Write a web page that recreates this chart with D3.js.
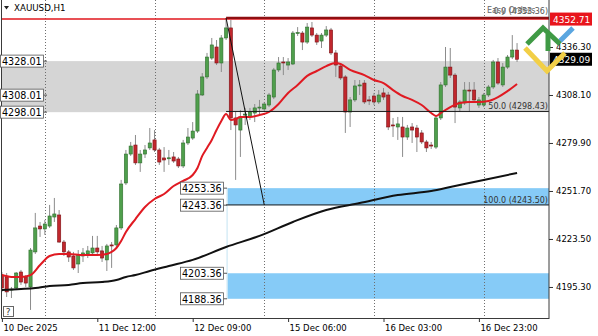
<!DOCTYPE html>
<html>
<head>
<meta charset="utf-8">
<script src="https://cdn.jsdelivr.net/npm/d3@7"></script>
<style>
  body { margin: 0; background: #fff; }
  svg { display: block; font-family: "DejaVu Sans", Tahoma, sans-serif; }
</style>
</head>
<body>
<svg id="chart"></svg>
<script>
// XAUUSD H1, bars 0..108
const opens = [4202.3,4201.2,4193.5,4194.7,4204.1,4201.2,4195.3,4215.9,4231.1,4229.4,
  4231.1,4236.4,4237.6,4221.7,4215.9,4213.5,4208.8,4213.5,4214.7,4215.3,
  4218.2,4216.5,4211.2,4220.0,4220.0,4230.0,4256.4,4273.4,4278.7,4268.2,
  4273.4,4277.0,4281.7,4275.8,4271.1,4271.1,4271.7,4270.5,4266.4,4279.9,
  4282.8,4286.9,4308.1,4318.7,4329.8,4336.3,4326.9,4341.6,4347.5,4294.6,
  4287.5,4296.3,4295.2,4297.5,4300.5,4299.9,4302.2,4306.9,4322.8,4327.5,
  4325.7,4326.3,4344.5,4344.5,4339.2,4347.5,4343.3,4339.8,4343.3,4346.3,
  4332.8,4325.1,4318.7,4298.1,4305.2,4313.4,4315.1,4305.2,4307.5,4304.0,
  4309.3,4308.1,4290.5,4289.3,4289.3,4283.4,4289.3,4288.7,4285.8,4280.5,
  4278.7,4277.5,4294.6,4314.0,4324.5,4319.8,4300.5,4303.4,4311.0,4311.0,
  4302.2,4302.2,4308.1,4312.8,4327.5,4314.0,4324.5,4330.4,4334.5];
const highs = [4204.1,4203.5,4195.3,4204.1,4205.3,4202.3,4218.2,4238.8,4233.5,4234.7,
  4243.5,4247.6,4240.5,4222.9,4217.0,4215.9,4217.0,4218.2,4219.4,4225.3,
  4225.3,4219.4,4220.6,4221.7,4231.7,4258.2,4275.8,4280.5,4284.6,4275.8,
  4278.7,4288.7,4287.5,4277.0,4277.5,4275.8,4274.6,4271.7,4281.7,4288.7,
  4292.2,4311.0,4321.0,4332.8,4341.6,4340.4,4343.3,4353.3,4352.2,4298.1,
  4299.3,4300.5,4300.5,4302.8,4305.2,4304.0,4309.3,4324.0,4330.4,4330.4,
  4329.8,4345.7,4348.0,4345.7,4350.4,4351.0,4344.5,4344.5,4348.6,4347.5,
  4334.5,4326.9,4319.8,4306.9,4316.9,4316.9,4316.9,4307.5,4309.3,4311.0,
  4312.2,4309.9,4294.6,4295.2,4295.2,4290.5,4291.6,4290.5,4287.5,4281.7,
  4280.5,4296.3,4315.7,4336.3,4335.7,4321.0,4305.2,4315.7,4315.7,4315.7,
  4306.9,4309.3,4314.0,4328.7,4329.8,4326.9,4331.6,4343.3,4338.6];
const lows = [4192.4,4189.4,4188.8,4193.5,4196.5,4195.3,4181.8,4214.7,4224.7,4225.9,
  4230.0,4233.5,4221.2,4213.5,4210.0,4205.3,4203.5,4210.0,4212.3,4213.5,
  4213.5,4210.0,4204.7,4206.5,4218.8,4228.8,4255.2,4272.3,4267.0,4262.9,
  4271.1,4275.8,4274.6,4267.0,4262.9,4267.0,4268.2,4265.2,4265.2,4278.7,
  4281.7,4285.8,4307.5,4317.5,4328.7,4325.7,4321.6,4340.4,4287.5,4258.2,
  4271.7,4290.5,4293.4,4292.2,4296.3,4298.7,4301.0,4305.7,4321.6,4319.8,
  4322.8,4325.7,4342.8,4334.5,4338.1,4342.2,4337.5,4335.7,4342.2,4331.6,
  4318.7,4316.9,4285.8,4289.3,4304.0,4308.1,4302.8,4302.2,4302.2,4302.8,
  4305.2,4287.5,4283.4,4281.7,4271.7,4281.7,4279.9,4274.6,4279.3,4274.6,
  4276.4,4276.4,4293.4,4312.8,4318.1,4291.6,4298.1,4302.2,4298.1,4303.4,
  4300.5,4301.0,4306.9,4311.6,4314.0,4312.8,4323.4,4329.2,4327.5];
const closes = [4194.7,4192.4,4194.1,4203.5,4198.2,4197.6,4217.0,4230.0,4229.4,4232.3,
  4237.0,4238.2,4221.7,4215.9,4212.9,4206.5,4214.1,4215.3,4216.5,4218.2,
  4215.9,4212.3,4219.4,4219.4,4230.0,4255.8,4273.4,4278.1,4268.2,4273.4,
  4275.8,4279.9,4275.8,4268.7,4269.9,4271.2,4269.3,4266.4,4279.9,4283.4,
  4286.9,4308.7,4318.7,4330.4,4337.5,4326.9,4341.6,4347.5,4294.6,4290.5,
  4295.2,4296.9,4298.1,4300.5,4301.0,4302.8,4308.1,4322.8,4326.9,4326.9,
  4327.5,4344.5,4344.8,4339.2,4348.0,4343.3,4339.2,4343.3,4346.3,4332.8,
  4325.7,4318.1,4298.1,4305.2,4313.4,4314.0,4304.0,4304.6,4304.0,4308.1,
  4306.9,4289.3,4289.9,4291.1,4283.4,4288.7,4287.5,4283.4,4280.5,4277.0,
  4278.1,4294.6,4314.0,4324.5,4319.8,4301.0,4304.0,4311.0,4310.5,4305.2,
  4305.2,4308.1,4312.8,4327.5,4315.1,4324.5,4330.4,4334.5,4329.1];

// moving averages, [bar, price] read at sample bars
const redMA = [[0,4202.3],[2,4201.2],[4,4201.2],[6,4202.3],[8,4208.2],[10,4213.5],[12,4214.7],
  [14,4214.7],[17,4214.1],[20,4214.1],[22,4214.7],[23,4215.9],[24,4218.2],[25,4222.3],
  [26,4227.6],[28,4235.2],[30,4242.3],[32,4247.0],[34,4249.9],[36,4254.6],[38,4257.6],
  [40,4261.1],[41,4265.2],[42,4272.3],[43,4277.0],[44,4281.7],[45,4287.5],[46,4292.8],
  [47,4296.9],[48,4293.4],[49,4294.0],[50,4295.2],[52,4295.2],[54,4296.3],[56,4298.1],
  [58,4302.8],[60,4309.3],[62,4314.0],[64,4319.3],[66,4322.2],[68,4325.1],[70,4326.9],
  [71,4326.3],[73,4322.8],[76,4319.8],[78,4316.9],[80,4315.1],[82,4311.0],[84,4307.5],
  [86,4305.2],[88,4302.2],[90,4297.5],[91,4295.8],[92,4297.5],[94,4301.0],[96,4303.4],
  [98,4304.0],[100,4304.0],[102,4304.6],[104,4306.9],[106,4310.4],[108,4314.6]];
const blackMA = [[0,4193.5],[4,4194.1],[7,4194.7],[10,4195.9],[14,4196.5],[17,4197.6],
  [21,4198.2],[24,4199.4],[26,4201.2],[28,4202.3],[31,4204.7],[35,4207.6],[40,4211.2],
  [47,4218.8],[54,4225.3],[61,4233.5],[68,4240.5],[75,4244.6],[83,4249.3],[90,4251.7],
  [94,4254.0],[101,4258.2],[108,4262.3]];

const priceTicks = [4336.30, 4308.10, 4279.90, 4251.70, 4223.50, 4195.30];
const timeTickBars = [0, 20, 40, 60, 80, 100];
const timeTickLabels = ["10 Dec 2025", "11 Dec 12:00", "12 Dec 09:00", "15 Dec 06:00", "16 Dec 03:00", "16 Dec 23:00"];
const gridBars = [9, 32, 55, 78, 101];

const grayZone = [4328.01, 4298.01];
const grayZoneLabels = [4328.01, 4308.01, 4298.01];
const blueZones = [[4253.36, 4243.36], [4203.36, 4188.36]];
const blueZoneLabels = [4253.36, 4243.36, 4203.36, 4188.36];
const fibStart = { bar: 47, price: 4353.36 };
const fibEnd = { bar: 55, price: 4243.50 };
const fibLevels = [0, 50, 100];
const hLinePrice = 4352.71;
const bidPrice = 4329.09;

class CandleChart {

  constructor(_config) {
    this.config = {
      parentElement: _config.parentElement,
      containerWidth: _config.containerWidth || 598,
      containerHeight: _config.containerHeight || 336,
      plotRight: 549,
      plotBottom: 318
    }
    this.bars = opens.map((o, i) => ({ i: i, o: o, h: highs[i], l: lows[i], c: closes[i] }));
    this.initVis();
  }

  initVis() {
    let vis = this;
    let W = vis.config.plotRight, H = vis.config.plotBottom;

    vis.svg = d3.select(vis.config.parentElement)
        .attr('width', vis.config.containerWidth)
        .attr('height', vis.config.containerHeight)
        .style('background-color', '#fff');

    // bar i sits at 1.9 + 4.77*i px
    vis.xScale = d3.scaleLinear().domain([0, 108]).range([1.9, 1.9 + 4.77 * 108]);
    vis.yScale = d3.scaleLinear().domain([4177.07, 4363.91]).range([H, 0]);

    vis.svg.append('clipPath').attr('id', 'plotclip')
      .append('rect').attr('x', 1).attr('y', 0).attr('width', W - 1).attr('height', H);

    vis.chart = vis.svg.append('g').attr('clip-path', 'url(#plotclip)');

    vis.updateVis();
  }

  updateVis() {
    let vis = this;
    let x = vis.xScale, y = vis.yScale;
    let W = vis.config.plotRight, H = vis.config.plotBottom;
    let fibX = x(fibStart.bar);

    // gray zone across the whole chart
    vis.chart.append('rect')
      .attr('x', 0).attr('width', W)
      .attr('y', y(grayZone[0])).attr('height', y(grayZone[1]) - y(grayZone[0]))
      .attr('fill', '#d5d5d5');

    // blue zones
    vis.chart.selectAll('rect.blue').data(blueZones).join('rect')
      .attr('class', 'blue')
      .attr('x', fibX + 1.5).attr('width', W - fibX - 1.5)
      .attr('y', d => y(d[0])).attr('height', d => y(d[1]) - y(d[0]))
      .attr('fill', '#86cbf7');
    vis.chart.append('line')
      .attr('x1', fibX + 1).attr('x2', fibX + 1)
      .attr('y1', y(blueZones[0][0])).attr('y2', y(blueZones[1][1]))
      .attr('stroke', '#c3e3f2').attr('stroke-width', 1);

    // dotted grid
    vis.chart.selectAll('line.grid').data(gridBars).join('line')
      .attr('class', 'grid')
      .attr('x1', d => Math.round(x(d)) + 0.5).attr('x2', d => Math.round(x(d)) + 0.5)
      .attr('y1', 0).attr('y2', H)
      .attr('stroke', '#6e6e6e').attr('stroke-dasharray', '1,2');

    // candles
    vis.chart.selectAll('line.wick').data(vis.bars).join('line')
      .attr('class', 'wick')
      .attr('x1', d => x(d.i)).attr('x2', d => x(d.i))
      .attr('y1', d => y(d.h)).attr('y2', d => y(d.l))
      .attr('stroke', '#8c8c8c').attr('stroke-width', 1);
    vis.chart.selectAll('rect.body').data(vis.bars).join('rect')
      .attr('class', 'body')
      .attr('x', d => x(d.i) - 1.6).attr('width', 3.2)
      .attr('y', d => y(Math.max(d.o, d.c)))
      .attr('height', d => Math.max(1, Math.abs(y(d.o) - y(d.c))))
      .attr('fill', d => d.c >= d.o ? '#4f9f4c' : '#c1272d')
      .attr('stroke', d => d.c >= d.o ? '#2f6e2d' : '#7d1216')
      .attr('stroke-width', 0.6);

    // moving averages
    let maLine = d3.line().x(d => x(d[0])).y(d => y(d[1])).curve(d3.curveMonotoneX);
    vis.chart.append('path').datum(blackMA)
      .attr('d', maLine).attr('fill', 'none')
      .attr('stroke', '#111').attr('stroke-width', 2);
    vis.chart.append('path').datum(redMA)
      .attr('d', maLine).attr('fill', 'none')
      .attr('stroke', '#e01a22').attr('stroke-width', 2);

    // horizontal line + fibo
    vis.chart.append('line')
      .attr('x1', 0).attr('x2', W).attr('y1', y(hLinePrice)).attr('y2', y(hLinePrice))
      .attr('stroke', '#e0161d').attr('stroke-width', 1.5);
    let fibPrice = lv => fibStart.price - (fibStart.price - fibEnd.price) * lv / 100;
    vis.chart.selectAll('line.fib').data(fibLevels).join('line')
      .attr('class', 'fib')
      .attr('x1', fibX).attr('x2', W)
      .attr('y1', d => y(fibPrice(d))).attr('y2', d => y(fibPrice(d)))
      .attr('stroke', d => d == 0 ? '#8e0f12' : '#1a1a1a')
      .attr('stroke-width', d => d == 0 ? 2.2 : 1);
    vis.chart.append('line')
      .attr('x1', fibX).attr('y1', y(fibStart.price))
      .attr('x2', x(fibEnd.bar)).attr('y2', y(fibEnd.price))
      .attr('stroke', '#111').attr('stroke-width', 1);
    vis.chart.selectAll('text.fib').data(fibLevels.filter(d => d > 0)).join('text')
      .attr('class', 'fib')
      .attr('x', W - 1).attr('y', d => y(fibPrice(d)) - 2)
      .attr('text-anchor', 'end').style('font-size', '8px').attr('fill', '#333')
      .text(d => `${d.toFixed(1)} (${fibPrice(d).toFixed(2)})`);
    // fib 0 label sits right under the "Easy Orders" button text, like the screenshot
    vis.svg.append('text')
      .attr('x', W - 1).attr('y', 14).attr('text-anchor', 'end')
      .style('font-size', '8px').attr('fill', '#555')
      .text(`0.0 (${fibStart.price.toFixed(2)})`);
    vis.svg.append('text')
      .attr('x', 487).attr('y', 13)
      .style('font-size', '8px').attr('fill', '#666')
      .text('Easy Orders');

    // frame
    vis.svg.append('rect')
      .attr('x', 1.5).attr('y', -1).attr('width', W - 1.5).attr('height', H + 1.5)
      .attr('fill', 'none').attr('stroke', '#3a3a3a').attr('stroke-width', 1);

    // axes
    vis.yAxis = d3.axisRight(vis.yScale).tickValues(priceTicks)
      .tickFormat(d3.format('.2f')).tickSize(4).tickPadding(3);
    vis.yAxisG = vis.svg.append('g')
      .attr('transform', `translate(${W},0)`)
      .call(vis.yAxis);
    vis.yAxisG.select('.domain').remove();
    vis.yAxisG.selectAll('text').style('font-size', '8.5px').style('font-family', '"DejaVu Sans", sans-serif').attr('fill', '#000');
    vis.yAxisG.selectAll('line').attr('stroke', '#333');

    vis.xAxis = d3.axisBottom(vis.xScale).tickValues(timeTickBars)
      .tickFormat((d, i) => timeTickLabels[i]).tickSize(4);
    vis.xAxisG = vis.svg.append('g')
      .attr('transform', `translate(0,${H})`)
      .call(vis.xAxis);
    vis.xAxisG.select('.domain').remove();
    vis.xAxisG.selectAll('text')
      .style('text-anchor', 'start').attr('dx', '1').attr('y', 7)
      .style('font-size', '8.5px').style('font-family', '"DejaVu Sans", sans-serif').attr('fill', '#000');
    vis.xAxisG.selectAll('line').attr('stroke', '#333');

    // price tags on the axis
    let tag = (price, bg) => {
      vis.svg.append('rect')
        .attr('x', W + 1).attr('y', y(price) - 6.5).attr('width', 42).attr('height', 13)
        .attr('fill', bg);
      vis.svg.append('text')
        .attr('x', W + 4).attr('y', y(price) + 3.5)
        .style('font-size', '9px').attr('fill', '#fff')
        .text(price.toFixed(2));
    };
    tag(hLinePrice, '#e8151c');
    tag(bidPrice, '#000');

    // boxed labels for zones
    let boxLabel = (price, right, tickTo) => {
      vis.svg.append('line')
        .attr('x1', right).attr('x2', tickTo).attr('y1', y(price)).attr('y2', y(price))
        .attr('stroke', '#555');
      vis.svg.append('rect')
        .attr('x', right - 43).attr('y', y(price) - 6).attr('width', 43).attr('height', 12)
        .attr('fill', '#fff').attr('stroke', '#555').attr('stroke-width', 0.8);
      vis.svg.append('text')
        .attr('x', right - 41.5).attr('y', y(price) + 4)
        .style('font-size', '9.6px').attr('fill', '#000')
        .text(price.toFixed(2));
    };
    grayZoneLabels.forEach(p => boxLabel(p, 43.5, 47));
    blueZoneLabels.forEach(p => boxLabel(p, 223.5, fibX + 1));

    // symbol title
    vis.svg.append('path').attr('d', 'M4,6 L9,6 L6.5,9.5 Z').attr('fill', '#222');
    vis.svg.append('text')
      .attr('x', 14).attr('y', 11).style('font-size', '8.7px').attr('fill', '#000')
      .text('XAUUSD,H1');

    // help box
    vis.svg.append('rect')
      .attr('x', 3.5).attr('y', 306.5).attr('width', 10).attr('height', 10)
      .attr('fill', '#fff').attr('stroke', '#666');
    vis.svg.append('text')
      .attr('x', 5.8).attr('y', 315).style('font-size', '9px').attr('fill', '#333').text('?');

    // broker logo top right (drawn over the axis, as in the screenshot)
    let logo = vis.svg.append('g').attr('fill', 'none').attr('stroke-linecap', 'butt').attr('stroke-width', 5);
    logo.append('path').attr('d', 'M525,48 L547,71 L565,53').attr('stroke', '#f2cf47');
    logo.append('path').attr('d', 'M560,41 L573,28').attr('stroke', '#5aa6e0');
    logo.append('path').attr('d', 'M527,44 L543,28 L560,44').attr('stroke', '#3f9a45');
    logo.append('path').attr('d', 'M548,34 L548,51').attr('stroke', '#3f9a45');
  }
}

let chart = new CandleChart({ parentElement: '#chart' });
</script>
</body>
</html>
